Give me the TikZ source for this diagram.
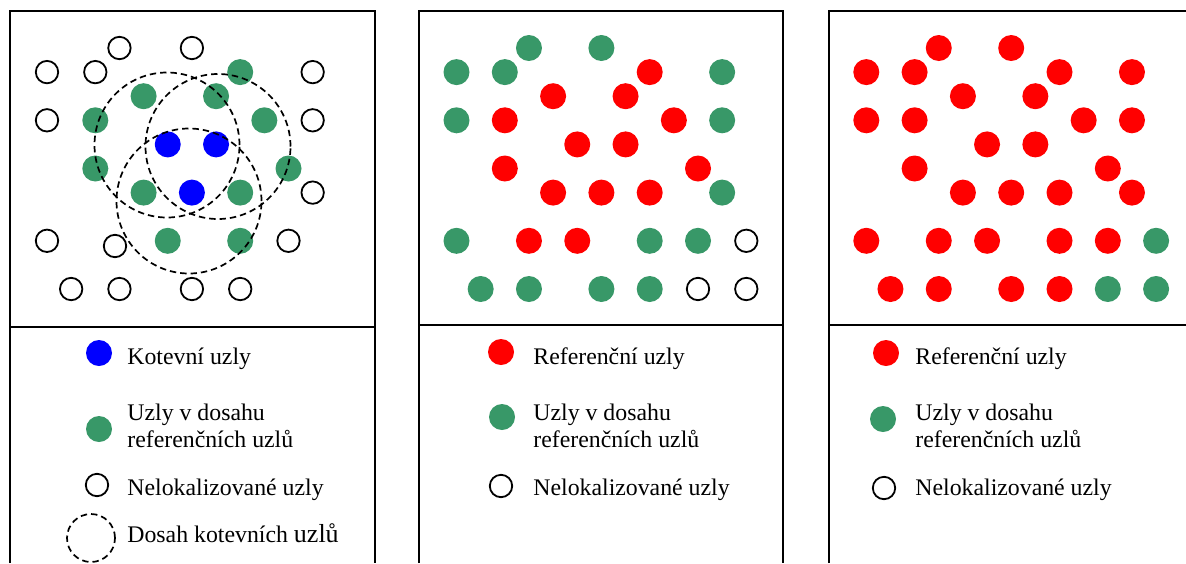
\documentclass[tikz,border=0pt]{standalone}
\usepackage{fontspec}
\setmainfont{Liberation Serif}
\usetikzlibrary{positioning}
\definecolor{zelena}{RGB}{56,152,104}
\tikzstyle{uzel} = [circle, inner sep=0pt, minimum size=13pt]
\tikzstyle{kotevni} = [uzel, fill=blue]
\tikzstyle{referencni} = [uzel, fill=red]
\tikzstyle{vdosahu} = [uzel, fill=zelena]
\tikzstyle{nelok} = [uzel, draw, line width=0.9pt, minimum size=11.2pt]
\tikzstyle{dosah} = [
  circle,
  draw,
  line width=0.85pt,
  dash pattern=on 3.2pt off 2pt,
  inner sep=0pt,
  minimum size=72.5pt]
\tikzstyle{popis} = [anchor=base west, align=left, inner sep=0pt]
\tikzstyle{ramec} = [line width=1pt]
% uzly v mrizce: styl, predpona, x0, seznam i/j
\newcommand{\uzly}[4]{%
  \foreach \i/\j in {#4} {\node[#1] (#2-\i-\j) at ({#3+24.15*\i},{48+24.1*\j}) {};}}

\begin{document}
\begin{tikzpicture}[
  x=0.5pt, y=-0.5pt,
  font=\fontsize{11.9}{13.5}\selectfont]
  \useasboundingbox (0,0) rectangle (1186,563);
  % ramecky
  \draw[ramec] (10,563) -- (10,11) -- (375,11) -- (375,563);
  \draw[ramec] (10,327) -- (375,327);
  \draw[ramec] (419,563) -- (419,11) -- (783,11) -- (783,563);
  \draw[ramec] (419,325) -- (783,325);
  \draw[ramec] (829,563) -- (829,11) -- (1186,11);
  \draw[ramec] (829,325) -- (1186,325);

  % prvni panel
  \uzly{nelok}{a}{47}{3/0, 6/0, 0/1, 2/1, 11/1, 0/3, 11/3, 11/6, 0/8,
    10/8, 1/10, 3/10, 6/10, 8/10}
  \node[nelok] (a-x) at (115,246) {};
  \uzly{vdosahu}{a}{47}{8/1, 4/2, 7/2, 2/3, 9/3, 2/5, 10/5, 4/6, 8/6,
    5/8, 8/8}
  \uzly{kotevni}{a}{47}{5/4, 7/4, 6/6}
  \node[dosah] (r1) at (167,145) {};
  \node[dosah] (r2) at (218,146.5) {};
  \node[dosah] (r3) at (189,201) {};

  \node[kotevni] (lk) at (99,353) {};
  \node[popis] (tk) at (127,364) {Kotevní uzly};
  \node[vdosahu] (lv) at (99,429) {};
  \node[popis] (tv) at (127,447) {Uzly v dosahu\\referenčních uzlů};
  \node[nelok] (ln) at (97,485) {};
  \node[popis] (tn) at (127,495) {Nelokalizované uzly};
  \node[dosah, minimum size=24pt] (ld) at (91,538) {};
  \node[popis] (td) at (127,542) {Dosah kotevních {\fontsize{13}{13.5}\selectfont uzlů}};

  % druhy panel
  \uzly{vdosahu}{b}{456.5}{3/0, 6/0, 0/1, 2/1, 11/1, 0/3, 11/3, 11/6,
    0/8, 8/8, 10/8, 1/10, 3/10, 6/10, 8/10}
  \uzly{referencni}{b}{456.5}{8/1, 4/2, 7/2, 2/3, 9/3, 5/4, 7/4, 2/5,
    10/5, 4/6, 6/6, 8/6, 3/8, 5/8}
  \uzly{nelok}{b}{456.5}{12/8, 10/10, 12/10}

  \node[referencni] (lr2) at (501,352) {};
  \node[popis] (tr2) at (533,364) {Referenční uzly};
  \node[vdosahu] (lv2) at (502,417) {};
  \node[popis] (tv2) at (533,447) {Uzly v dosahu\\referenčních uzlů};
  \node[nelok] (ln2) at (501,486) {};
  \node[popis] (tn2) at (533,495) {Nelokalizované uzly};

  % treti panel
  \uzly{referencni}{c}{866.3}{3/0, 6/0, 0/1, 2/1, 8/1, 11/1, 4/2, 7/2,
    0/3, 2/3, 9/3, 11/3, 5/4, 7/4, 2/5, 10/5, 4/6, 6/6, 8/6, 11/6,
    0/8, 3/8, 5/8, 8/8, 10/8, 1/10, 3/10, 6/10, 8/10}
  \uzly{vdosahu}{c}{866.3}{12/8, 10/10, 12/10}

  \node[referencni] (lr3) at (886,353) {};
  \node[popis] (tr3) at (915,364) {Referenční uzly};
  \node[vdosahu] (lv3) at (883,419) {};
  \node[popis] (tv3) at (915,447) {Uzly v dosahu\\referenčních uzlů};
  \node[nelok] (ln3) at (884,488) {};
  \node[popis] (tn3) at (915,495) {Nelokalizované uzly};
\end{tikzpicture}
\end{document}
